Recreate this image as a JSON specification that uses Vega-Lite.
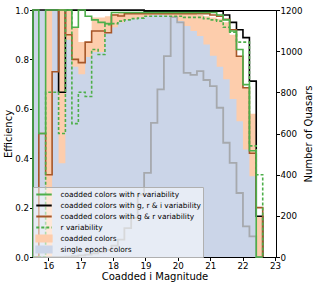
{
  "$schema": "https://vega.github.io/schema/vega-lite/v6.json",
  "width": 243,
  "height": 247,
  "autosize": {"type": "none"},
  "padding": {"left": 33, "top": 10, "right": 42, "bottom": 30},
  "config": {
    "view": {"stroke": "black", "strokeWidth": 1},
    "font": "DejaVu Sans",
    "axis": {"grid": false, "domainColor": "black", "tickColor": "black", "labelColor": "black", "titleColor": "black", "labelFont": "DejaVu Sans", "titleFont": "DejaVu Sans", "labelFontSize": 8.7, "titleFontSize": 10, "titleFontWeight": "normal", "tickSize": 3.5, "labelPadding": 1, "labelFlush": false, "labelOverlap": false, "domainWidth": 1, "tickWidth": 1}
  },
  "datasets": {
    "peach": [
      {"m":15.53,"v":1.0},{"m":15.71,"v":1.0},{"m":15.92,"v":1.0},{"m":16.12,"v":1.0},{"m":16.32,"v":1.0},{"m":16.53,"v":1.0},{"m":16.73,"v":0.93},{"m":16.93,"v":0.87},{"m":17.14,"v":0.87},{"m":17.34,"v":0.97},{"m":17.54,"v":0.97},{"m":17.75,"v":0.975},{"m":17.95,"v":0.985},{"m":18.15,"v":0.99},{"m":18.35,"v":0.99},{"m":18.56,"v":0.99},{"m":18.76,"v":0.99},{"m":18.96,"v":0.99},{"m":19.17,"v":0.99},{"m":19.37,"v":0.99},{"m":19.57,"v":0.99},{"m":19.78,"v":0.99},{"m":19.98,"v":0.99},{"m":20.18,"v":0.985},{"m":20.39,"v":0.985},{"m":20.59,"v":0.98},{"m":20.79,"v":0.975},{"m":20.99,"v":0.97},{"m":21.2,"v":0.965},{"m":21.4,"v":0.95},{"m":21.6,"v":0.9},{"m":21.81,"v":0.81},{"m":22.01,"v":0.685},{"m":22.21,"v":0.58},{"m":22.42,"v":0.165},{"m":22.62,"v":0}
    ],
    "blue": [
      {"m":15.53,"v":1.0},{"m":15.71,"v":1.0},{"m":15.92,"v":0.0},{"m":16.12,"v":1.0},{"m":16.32,"v":0.38},{"m":16.53,"v":0.88},{"m":16.73,"v":0.77},{"m":16.93,"v":0.74},{"m":17.14,"v":0.81},{"m":17.34,"v":0.83},{"m":17.54,"v":0.83},{"m":17.75,"v":0.91},{"m":17.95,"v":0.93},{"m":18.15,"v":0.95},{"m":18.35,"v":0.96},{"m":18.56,"v":0.965},{"m":18.76,"v":0.97},{"m":18.96,"v":0.975},{"m":19.17,"v":0.98},{"m":19.37,"v":0.98},{"m":19.57,"v":0.978},{"m":19.78,"v":0.972},{"m":19.98,"v":0.955},{"m":20.18,"v":0.935},{"m":20.39,"v":0.915},{"m":20.59,"v":0.895},{"m":20.79,"v":0.86},{"m":20.99,"v":0.815},{"m":21.2,"v":0.77},{"m":21.4,"v":0.72},{"m":21.6,"v":0.64},{"m":21.81,"v":0.55},{"m":22.01,"v":0.435},{"m":22.21,"v":0.327},{"m":22.42,"v":0.0},{"m":22.62,"v":0}
    ],
    "count": [
      {"m":15.53,"v":0},{"m":15.53,"v":0},{"m":15.71,"v":0},{"m":15.92,"v":0},{"m":16.12,"v":0},{"m":16.32,"v":1},{"m":16.53,"v":2},{"m":16.73,"v":4},{"m":16.93,"v":8},{"m":17.14,"v":12},{"m":17.34,"v":18},{"m":17.54,"v":25},{"m":17.75,"v":35},{"m":17.95,"v":55},{"m":18.15,"v":84},{"m":18.35,"v":140},{"m":18.56,"v":190},{"m":18.76,"v":303},{"m":18.96,"v":409},{"m":19.17,"v":652},{"m":19.37,"v":814},{"m":19.57,"v":976},{"m":19.78,"v":1165},{"m":19.98,"v":1140},{"m":20.18,"v":895},{"m":20.39,"v":885},{"m":20.59,"v":903},{"m":20.79,"v":860},{"m":20.99,"v":830},{"m":21.2,"v":725},{"m":21.4,"v":555},{"m":21.6,"v":457},{"m":21.81,"v":311},{"m":22.01,"v":149},{"m":22.21,"v":100},{"m":22.42,"v":0},{"m":22.62,"v":0}
    ],
    "black": [
      {"m":15.53,"v":0},{"m":15.53,"v":1.0},{"m":15.71,"v":1.0},{"m":15.92,"v":1.0},{"m":16.12,"v":1.0},{"m":16.32,"v":0.667},{"m":16.53,"v":1.0},{"m":16.73,"v":1.0},{"m":16.93,"v":1.0},{"m":17.14,"v":1.0},{"m":17.34,"v":1.0},{"m":17.54,"v":1.0},{"m":17.75,"v":1.0},{"m":17.95,"v":1.0},{"m":18.15,"v":1.0},{"m":18.35,"v":1.0},{"m":18.56,"v":1.0},{"m":18.76,"v":1.0},{"m":18.96,"v":0.995},{"m":19.17,"v":0.995},{"m":19.37,"v":0.995},{"m":19.57,"v":0.995},{"m":19.78,"v":0.995},{"m":19.98,"v":0.995},{"m":20.18,"v":0.995},{"m":20.39,"v":0.995},{"m":20.59,"v":0.995},{"m":20.79,"v":0.995},{"m":20.99,"v":0.995},{"m":21.2,"v":0.995},{"m":21.4,"v":0.98},{"m":21.6,"v":0.95},{"m":21.81,"v":0.92},{"m":22.01,"v":0.888},{"m":22.21,"v":0.712},{"m":22.42,"v":0.165},{"m":22.62,"v":0}
    ],
    "brown": [
      {"m":15.53,"v":0},{"m":15.53,"v":0},{"m":15.71,"v":0.5},{"m":15.92,"v":0.333},{"m":16.12,"v":0.75},{"m":16.32,"v":1.0},{"m":16.53,"v":0.9},{"m":16.73,"v":0.8},{"m":16.93,"v":0.787},{"m":17.14,"v":0.87},{"m":17.34,"v":0.915},{"m":17.54,"v":0.915},{"m":17.75,"v":0.908},{"m":17.95,"v":0.98},{"m":18.15,"v":0.976},{"m":18.35,"v":0.985},{"m":18.56,"v":0.985},{"m":18.76,"v":0.985},{"m":18.96,"v":0.985},{"m":19.17,"v":0.985},{"m":19.37,"v":0.985},{"m":19.57,"v":0.985},{"m":19.78,"v":0.985},{"m":19.98,"v":0.985},{"m":20.18,"v":0.985},{"m":20.39,"v":0.985},{"m":20.59,"v":0.985},{"m":20.79,"v":0.985},{"m":20.99,"v":0.98},{"m":21.2,"v":0.975},{"m":21.4,"v":0.962},{"m":21.6,"v":0.92},{"m":21.81,"v":0.813},{"m":22.01,"v":0.685},{"m":22.21,"v":0.42},{"m":22.42,"v":0.2},{"m":22.62,"v":0}
    ],
    "green": [
      {"m":15.53,"v":0},{"m":15.53,"v":1.0},{"m":15.71,"v":0.5},{"m":15.92,"v":1.0},{"m":16.12,"v":1.0},{"m":16.32,"v":1.0},{"m":16.53,"v":1.0},{"m":16.73,"v":0.93},{"m":16.93,"v":1.0},{"m":17.14,"v":0.975},{"m":17.34,"v":0.96},{"m":17.54,"v":0.95},{"m":17.75,"v":0.945},{"m":17.95,"v":0.99},{"m":18.15,"v":0.99},{"m":18.35,"v":0.99},{"m":18.56,"v":0.99},{"m":18.76,"v":0.99},{"m":18.96,"v":0.99},{"m":19.17,"v":0.99},{"m":19.37,"v":0.99},{"m":19.57,"v":0.99},{"m":19.78,"v":0.99},{"m":19.98,"v":0.99},{"m":20.18,"v":0.99},{"m":20.39,"v":0.99},{"m":20.59,"v":0.99},{"m":20.79,"v":0.99},{"m":20.99,"v":0.99},{"m":21.2,"v":0.98},{"m":21.4,"v":0.96},{"m":21.6,"v":0.915},{"m":21.81,"v":0.84},{"m":22.01,"v":0.698},{"m":22.21,"v":0.43},{"m":22.42,"v":0.0},{"m":22.62,"v":0}
    ],
    "dashed": [
      {"m":15.53,"v":0},{"m":15.53,"v":0},{"m":15.71,"v":0},{"m":15.92,"v":0.667},{"m":16.12,"v":0.667},{"m":16.32,"v":0.5},{"m":16.53,"v":1.0},{"m":16.73,"v":0.54},{"m":16.93,"v":0.667},{"m":17.14,"v":0.65},{"m":17.34,"v":0.84},{"m":17.54,"v":0.82},{"m":17.75,"v":0.94},{"m":17.95,"v":0.945},{"m":18.15,"v":0.955},{"m":18.35,"v":0.96},{"m":18.56,"v":0.965},{"m":18.76,"v":0.967},{"m":18.96,"v":0.975},{"m":19.17,"v":0.975},{"m":19.37,"v":0.975},{"m":19.57,"v":0.975},{"m":19.78,"v":0.975},{"m":19.98,"v":0.975},{"m":20.18,"v":0.97},{"m":20.39,"v":0.97},{"m":20.59,"v":0.97},{"m":20.79,"v":0.965},{"m":20.99,"v":0.96},{"m":21.2,"v":0.955},{"m":21.4,"v":0.93},{"m":21.6,"v":0.91},{"m":21.81,"v":0.87},{"m":22.01,"v":0.87},{"m":22.21,"v":0.45},{"m":22.42,"v":0.333},{"m":22.62,"v":0}
    ]
  },
  "encoding": {
    "x": {"field": "m", "type": "quantitative", "scale": {"domain": [15.53, 23.03], "nice": false, "zero": false},
      "axis": {"values": [16,17,18,19,20,21,22,23], "format": "d", "title": "Coadded i Magnitude", "titleX": 121.5, "titleY": 22.7, "titleBaseline": "alphabetic"}}
  },
  "layer": [
    {
      "data": {"name": "peach"},
      "mark": {"type": "area", "interpolate": "step-after"},
      "encoding": {
        "y": {"field": "v", "type": "quantitative", "scale": {"domain": [0, 1], "nice": false},
          "axis": {"values": [0, 0.2, 0.4, 0.6, 0.8, 1.0], "format": ".1f", "title": "Efficiency", "titleX": -24.5, "titleY": 123.5, "titleBaseline": "middle"}},
        "color": {"datum": "coadded colors", "type": "nominal",
          "scale": {"domain": ["coadded colors with r variability", "coadded colors with g, r & i variability", "coadded colors with g & r variability", "r variability", "coadded colors", "single epoch colors"], "range": ["#4daf4a", "#000000", "#a65628", "#4daf4a", "#fdcdac", "#cbd5e8"]},
          "legend": {"title": null, "orient": "bottom-left", "offset": 0, "padding": 2, "fillColor": "rgba(255,255,255,0.55)", "strokeColor": "#b0b0b0", "labelFont": "DejaVu Sans", "labelFontSize": 7.4, "labelColor": "black", "labelOffset": 7.5, "rowPadding": 0, "clipHeight": 11, "symbolSize": 240, "labelLimit": 300, "symbolType": "stroke", "symbolStrokeWidth": 1.8,
            "encode": {"symbols": {"update": {
              "shape": {"signal": "(datum.value === 'coadded colors' || datum.value === 'single epoch colors') ? 'M-1,-0.4H1V0.4H-1Z' : 'stroke'"},
              "fill": {"signal": "datum.value === 'coadded colors' ? '#fdcdac' : (datum.value === 'single epoch colors' ? '#cbd5e8' : 'transparent')"},
              "stroke": {"signal": "(datum.value === 'coadded colors' || datum.value === 'single epoch colors') ? 'transparent' : (datum.value === 'coadded colors with g, r & i variability' ? '#000000' : (datum.value === 'coadded colors with g & r variability' ? '#a65628' : '#4daf4a'))"},
              "strokeDash": {"signal": "datum.value === 'r variability' ? [3, 2] : [1, 0]"},
              "strokeWidth": {"value": 1.8},
              "opacity": {"value": 1}
            }}}}
        },
        "order": {"value": null}
      }
    },
    {
      "data": {"name": "blue"},
      "mark": {"type": "area", "interpolate": "step-after"},
      "encoding": {
        "y": {"field": "v", "type": "quantitative", "scale": {"domain": [0, 1], "nice": false}, "axis": null},
        "color": {"datum": "single epoch colors", "type": "nominal"},
        "order": {"value": null}
      }
    },
    {
      "data": {"name": "count"},
      "mark": {"type": "line", "interpolate": "step-after", "stroke": "#999999", "strokeWidth": 1.8, "opacity": 0.75},
      "encoding": {
        "y": {"field": "v", "type": "quantitative", "scale": {"domain": [0, 1200], "nice": false},
          "axis": {"orient": "right", "values": [0, 200, 400, 600, 800, 1000, 1200], "format": "d", "title": "Number of Quasars", "titleX": 32, "titleY": 123.5, "titleBaseline": "middle", "titleAngle": 270, "labelPadding": 0.5}},
        "order": {"value": null}
      }
    },
    {
      "data": {"name": "black"},
      "mark": {"type": "line", "interpolate": "step-after", "strokeWidth": 1.6},
      "encoding": {
        "y": {"field": "v", "type": "quantitative", "scale": {"domain": [0, 1], "nice": false}, "axis": null},
        "color": {"datum": "coadded colors with g, r & i variability", "type": "nominal"},
        "order": {"value": null}
      }
    },
    {
      "data": {"name": "brown"},
      "mark": {"type": "line", "interpolate": "step-after", "strokeWidth": 1.6},
      "encoding": {
        "y": {"field": "v", "type": "quantitative", "scale": {"domain": [0, 1], "nice": false}, "axis": null},
        "color": {"datum": "coadded colors with g & r variability", "type": "nominal"},
        "order": {"value": null}
      }
    },
    {
      "data": {"name": "green"},
      "mark": {"type": "line", "interpolate": "step-after", "strokeWidth": 1.6},
      "encoding": {
        "y": {"field": "v", "type": "quantitative", "scale": {"domain": [0, 1], "nice": false}, "axis": null},
        "color": {"datum": "coadded colors with r variability", "type": "nominal"},
        "order": {"value": null}
      }
    },
    {
      "data": {"name": "dashed"},
      "mark": {"type": "line", "interpolate": "step-after", "strokeWidth": 1.6, "strokeDash": [3, 2]},
      "encoding": {
        "y": {"field": "v", "type": "quantitative", "scale": {"domain": [0, 1], "nice": false}, "axis": null},
        "color": {"datum": "r variability", "type": "nominal"},
        "order": {"value": null}
      }
    }
  ],
  "resolve": {"scale": {"y": "independent"}}
}
